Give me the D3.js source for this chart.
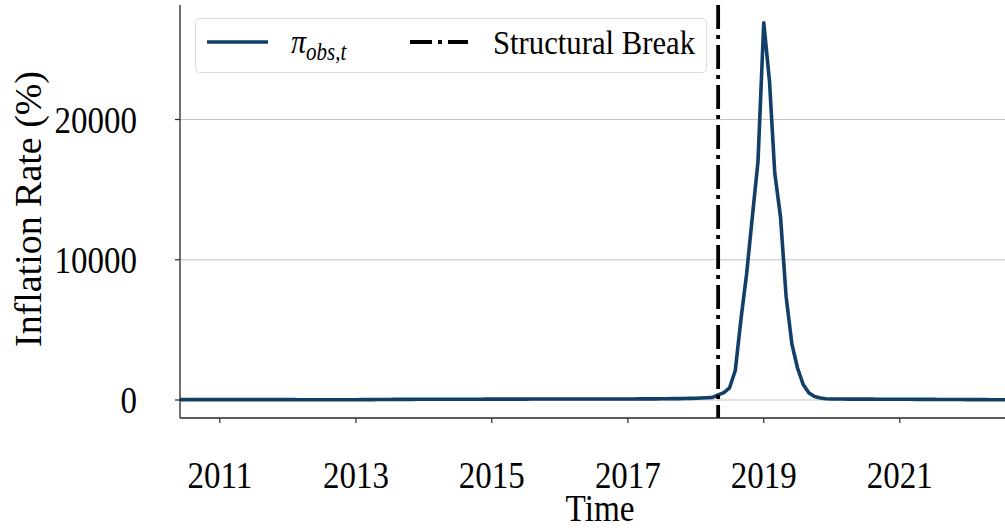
<!DOCTYPE html>
<html>
<head>
<meta charset="utf-8">
<script src="https://cdn.jsdelivr.net/npm/d3@7"></script>
<style>
    html, body { margin: 0; padding: 0; background: #fff; }
    svg { display: block; }
    text { font-family: "Liberation Serif", "Times New Roman", serif; fill: #000; }
</style>
</head>
<body>
<div id="vis"></div>
<script>
// monthly series, first value is June 2010
const startMonth = "2010-06-01";
const inflation = [
    // 2010 (Jun-Dec)
    27, 27, 28, 28, 28, 29, 27,
    // 2011
    27, 28, 28, 28, 28, 27, 28, 28, 27, 27, 27, 28,
    // 2012
    26, 25, 23, 21, 20, 20, 19, 18, 18, 18, 18, 20,
    // 2013
    22, 25, 25, 30, 35, 38, 40, 42, 44, 46, 48, 50,
    // 2014
    50, 51, 52, 53, 54, 55, 56, 56, 57, 57, 58, 60,
    // 2015
    60, 61, 62, 63, 64, 65, 66, 67, 68, 69, 70, 72,
    // 2016
    72, 73, 74, 74, 73, 72, 72, 72, 73, 74, 75, 76,
    // 2017
    76, 77, 78, 80, 82, 84, 86, 90, 95, 100, 108, 118,
    // 2018
    130, 145, 165, 185, 360, 530, 860, 2100, 5800, 9000, 13100, 17000,
    // 2019
    26900, 22700, 16200, 13050, 7400, 4000, 2300, 1100, 500, 250, 140, 90,
    // 2020
    75, 70, 68, 65, 65, 62, 60, 60, 58, 58, 56, 55,
    // 2021
    55, 52, 50, 48, 46, 44, 42, 40, 38, 36, 34, 32,
    // 2022 (Jan-Aug)
    30, 28, 26, 24, 22, 20, 18, 16
];
const breakDate = "2018-05-01";
const xDomain = ["2010-06-01", "2022-07-20"];
const yDomain = [-1283, 28164];
const xTickYears = [2011, 2013, 2015, 2017, 2019, 2021];
const yTicks = [0, 10000, 20000];
const seriesLabel = ["π", "obs,t"];
const breakLabel = "Structural Break";

const blue = "#113f67";
const width = 1005;
const height = 531;
const margin = { left: 180, top: 5, right: 0, bottom: 113 };
const stretch = 1.15;

const parse = d3.timeParse("%Y-%m-%d");
const data = inflation.map((v, i) => ({
    date: d3.timeMonth.offset(parse(startMonth), i),
    value: v
}));

const svg = d3.select("#vis")
    .append("svg")
    .attr("width", width)
    .attr("height", height)
    .attr("viewBox", `0 0 ${width} ${height}`);

const xScale = d3.scaleTime()
    .domain(xDomain.map(parse))
    .range([margin.left, width - margin.right]);

const yScale = d3.scaleLinear()
    .domain(yDomain)
    .range([height - margin.bottom, margin.top]);

const x0 = margin.left, x1 = width - margin.right;
const yBottom = height - margin.bottom, yTop = margin.top;

// text helper: computer-modern looks taller, so stretch vertically
function addText(g, x, y, str, size, anchor, len) {
    const t = g.append("text")
        .attr("transform", `translate(${x},${y}) scale(1,${stretch})`)
        .attr("text-anchor", anchor || "start")
        .style("font-size", `${size}px`)
        .text(str);
    if (len) t.attr("textLength", len).attr("lengthAdjust", "spacingAndGlyphs");
    return t;
}

svg.append("clipPath")
    .attr("id", "plot-clip")
    .append("rect")
        .attr("x", x0)
        .attr("y", 0)
        .attr("width", x1 - x0)
        .attr("height", yBottom);

// grid
svg.append("g")
    .attr("class", "grid")
    .selectAll("line")
    .data(yTicks)
    .join("line")
        .attr("x1", x0)
        .attr("x2", x1)
        .attr("y1", d => yScale(d))
        .attr("y2", d => yScale(d))
        .attr("stroke", "#c4c4c4")
        .attr("stroke-width", 1.2);

// series
svg.append("path")
    .datum(data)
    .attr("clip-path", "url(#plot-clip)")
    .attr("fill", "none")
    .attr("stroke", blue)
    .attr("stroke-width", 3.6)
    .attr("stroke-linejoin", "round")
    .attr("d", d3.line()
        .x(d => xScale(d.date))
        .y(d => yScale(d.value)));

// structural break
svg.append("line")
    .attr("x1", xScale(parse(breakDate)))
    .attr("x2", xScale(parse(breakDate)))
    .attr("y1", yTop)
    .attr("y2", yBottom)
    .attr("stroke", "#000")
    .attr("stroke-width", 3.8)
    .attr("stroke-dasharray", "24,6,4,6");

// spines
const axisColor = "#262626";
svg.append("line")
    .attr("x1", x0).attr("x2", x0)
    .attr("y1", yTop).attr("y2", yBottom)
    .attr("stroke", axisColor).attr("stroke-width", 1.3);
svg.append("line")
    .attr("x1", x0).attr("x2", x1)
    .attr("y1", yBottom).attr("y2", yBottom)
    .attr("stroke", axisColor).attr("stroke-width", 1.3);

// x axis
const xAxis = svg.append("g").attr("class", "x-axis");
xTickYears.forEach(yr => {
    const x = xScale(new Date(yr, 0, 1));
    xAxis.append("line")
        .attr("x1", x).attr("x2", x)
        .attr("y1", yBottom).attr("y2", yBottom + 5)
        .attr("stroke", axisColor).attr("stroke-width", 1.2);
    addText(xAxis, x, 488, `${yr}`, 33, "middle");
});
addText(svg, 600, 521, "Time", 33, "middle", 69);

// y axis
const yAxis = svg.append("g").attr("class", "y-axis");
yTicks.forEach(t => {
    const y = yScale(t);
    yAxis.append("line")
        .attr("x1", x0 - 5).attr("x2", x0)
        .attr("y1", y).attr("y2", y)
        .attr("stroke", axisColor).attr("stroke-width", 1.2);
    addText(yAxis, 137, y + 13, `${t}`, 33, "end");
});
svg.append("text")
    .attr("transform", `translate(41,209) rotate(-90) scale(1,${stretch})`)
    .attr("text-anchor", "middle")
    .attr("textLength", 276)
    .attr("lengthAdjust", "spacingAndGlyphs")
    .style("font-size", "33px")
    .text("Inflation Rate (%)");

// legend
const legend = svg.append("g").attr("class", "legend");
legend.append("rect")
    .attr("x", 195.5)
    .attr("y", 18.5)
    .attr("width", 511)
    .attr("height", 54)
    .attr("rx", 4)
    .attr("fill", "#fff")
    .attr("fill-opacity", 0.85)
    .attr("stroke", "#dcdcdc")
    .attr("stroke-width", 1);

legend.append("line")
    .attr("x1", 207).attr("x2", 268)
    .attr("y1", 42).attr("y2", 42)
    .attr("stroke", blue)
    .attr("stroke-width", 3.6);

const piText = legend.append("text")
    .attr("transform", `translate(291,53) scale(1,${stretch})`)
    .style("font-size", "30px")
    .style("font-style", "italic");
piText.append("tspan").text(seriesLabel[0]);
piText.append("tspan")
    .attr("dy", 6)
    .style("font-size", "21px")
    .text(seriesLabel[1]);

legend.append("line")
    .attr("x1", 410).attr("x2", 468)
    .attr("y1", 42).attr("y2", 42)
    .attr("stroke", "#000")
    .attr("stroke-width", 3.8)
    .attr("stroke-dasharray", "22,6,4,6");

addText(legend, 493, 54, breakLabel, 29, "start", 202);
</script>
</body>
</html>
